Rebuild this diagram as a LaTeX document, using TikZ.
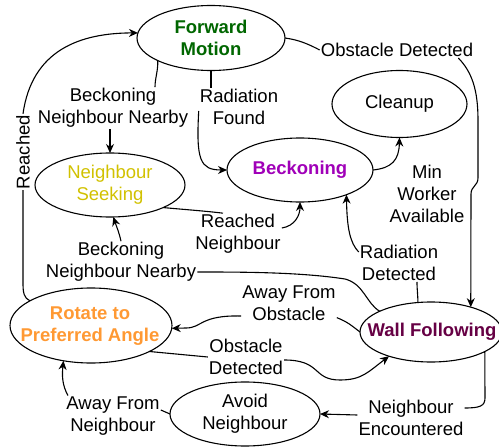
\documentclass[tikz,border=0pt]{standalone}
\usepackage{fontspec}
\setmainfont{Liberation Sans}
\usetikzlibrary{arrows.meta,shapes.geometric,calc}
\definecolor{fmgreen}{HTML}{006600}
\definecolor{beckpurple}{HTML}{A000B8}
\definecolor{seekyellow}{HTML}{D1C100}
\definecolor{rotorange}{HTML}{FF9933}
\definecolor{wallmaroon}{HTML}{660044}
\begin{document}
\begin{tikzpicture}[x=1pt,y=-1pt,
  txt/.style={font=\fontsize{18.5}{22}\selectfont},
  btxt/.style={font=\fontsize{18.5}{22}\selectfont\bfseries},
  state/.style={draw, ellipse, line width=1.1pt, inner sep=0pt, outer sep=0pt},
  stext/.style={align=center, inner sep=0pt},
  lbl/.style={align=center, inner sep=1pt, txt},
  conn/.style={line width=1.1pt},
  arr/.style={conn, -{Stealth[length=9pt,width=8pt]}}]
\useasboundingbox (0,0) rectangle (499,447);

% states (ellipses of fixed size, text set separately)
\node[state, minimum width=148pt, minimum height=65pt] (fm) at (211,38) {};
\node[stext, btxt, text=fmgreen] (fmt) at (fm) {Forward\\Motion};
\node[state, minimum width=135pt, minimum height=67pt] (cl) at (399.5,104) {};
\node[stext, txt] (clt) at (cl) {Cleanup};
\node[state, minimum width=150pt, minimum height=64pt] (ns) at (110,185) {};
\node[stext, txt, text=seekyellow] (nst) at (ns) {Neighbour\\Seeking};
\node[state, minimum width=146pt, minimum height=64pt] (bk) at (300,170) {};
\node[stext, btxt, text=beckpurple] (bkt) at (bk) {Beckoning};
\node[state, minimum width=162pt, minimum height=75pt] (rot) at (91,325.5) {};
\node[stext, btxt, text=rotorange] (rott) at (90,326.5) {Rotate to\\Preferred Angle};
\node[state, minimum width=142pt, minimum height=60pt] (wf) at (431,332) {};
\node[stext, btxt, text=wallmaroon] (wft) at (432,332) {Wall Following};
\node[state, minimum width=150pt, minimum height=64pt] (av) at (245,414) {};
\node[stext, txt] (avt) at (av) {Avoid\\Neighbour};

% labels
\node[lbl] (lod1) at (397,50) {Obstacle Detected};
\node[lbl] (lbn1) at (113,108) {Beckoning\\Neighbour Nearby};
\node[lbl] (lrf) at (239,107) {Radiation\\Found};
\node[lbl] (lmw) at (427,194) {Min\\Worker\\Available};
\node[lbl] (lrn) at (238,234) {Reached\\Neighbour};
\node[lbl] (lbn2) at (121,262) {Beckoning\\Neighbour Nearby};
\node[lbl] (lrd) at (399,263) {Radiation\\Detected};
\node[lbl] (lafo) at (289,303) {Away From\\Obstacle};
\node[lbl] (lod2) at (246,357) {Obstacle\\Detected};
\node[lbl] (lne) at (411,418) {Neighbour\\Encountered};
\node[lbl] (lafn) at (113,416) {Away From\\Neighbour};
\node[lbl, rotate=90] (lr) at (23,152) {Reached};

% Forward Motion -> Wall Following
\draw[conn] (fm.east) .. controls (300,40) and (310,45) .. (lod1.west);
\draw[arr] ([xshift=-16pt]lod1.south east) .. controls (472,72) and (478,90) .. (478,120) -- (478,178) .. controls (478,186) and (471,186) .. (471,194) -- (wf.32);

% Forward Motion -> Neighbour Seeking
\draw[conn] (fm.203) .. controls (158,72) and (155,78) .. ([xshift=42pt]lbn1.north);
\draw[arr] (lbn1.south -| ns.north) -- (ns.north);

% Forward Motion -> Beckoning
\draw[conn] (fm.south) -- (fm.south |- lrf.north);
\draw[arr] ([yshift=-4pt]lrf.west) .. controls (196,160) and (200,170) .. (bk.west);

% Beckoning -> Cleanup
\draw[arr] (bk.east) .. controls (392,168) and (399,160) .. (cl.south);

% Neighbour Seeking -> Beckoning
\draw[conn] (ns.-23) .. controls (190,210) and (205,211) .. ([xshift=-15pt]lrn.north);
\draw[arr] ([yshift=6pt]lrn.east) .. controls (295,226) and (300,215) .. (bk.south);

% Wall Following -> Neighbour Seeking
\draw[conn] (wf.158) .. controls (366,303) and (364,284) .. (345,279) .. controls (300,272) and (240,272) .. ([yshift=-10pt]lbn2.east);
\draw[arr] (lbn2.north) .. controls (119,232) and (117,228) .. (ns.-84);

% Wall Following -> Beckoning
\draw[conn] (wf.114) .. controls (418,296) and (417,290) .. ([xshift=18pt]lrd.south);
\draw[arr] ([yshift=-8pt]lrd.north west) .. controls (350,243) and (347,228) .. (bk.-28);

% Wall Following -> Rotate
\draw[conn] (wf.west) .. controls (352,326) and (348,322) .. ([yshift=4pt]lafo.south east);
\draw[arr] ([yshift=-13pt]lafo.west) .. controls (200,315) and (202,328) .. (186,328) -- (rot.-2);

% Rotate -> Wall Following
\draw[conn] (rot.-24) -- (lod2.west);
\draw[arr] ([yshift=-3pt]lod2.east) .. controls (322,360) and (312,380) .. (340,380) .. controls (362,380) and (368,372) .. (wf.-150);

% Wall Following -> Avoid Neighbour
\draw[conn] (wf.-20) -- (485,398) .. controls (485,406) and (480,408) .. ([yshift=10pt]lne.east);
\draw[arr] ([yshift=3pt]lne.west) -- (av.east);

% Avoid Neighbour -> Rotate
\draw[conn] (av.west) -- ([yshift=6pt]lafn.east);
\draw[arr] ([xshift=-45pt]lafn.north) .. controls (62,385) and (62,375) .. (rot.-128);

% Rotate -> Forward Motion
\draw[conn] (rot.158) .. controls (24,298) and (23,293) .. (23,283) -- (lr.west);
\draw[arr] (lr.east) .. controls (32,50) and (80,33) .. (fm.176);
\end{tikzpicture}
\end{document}
